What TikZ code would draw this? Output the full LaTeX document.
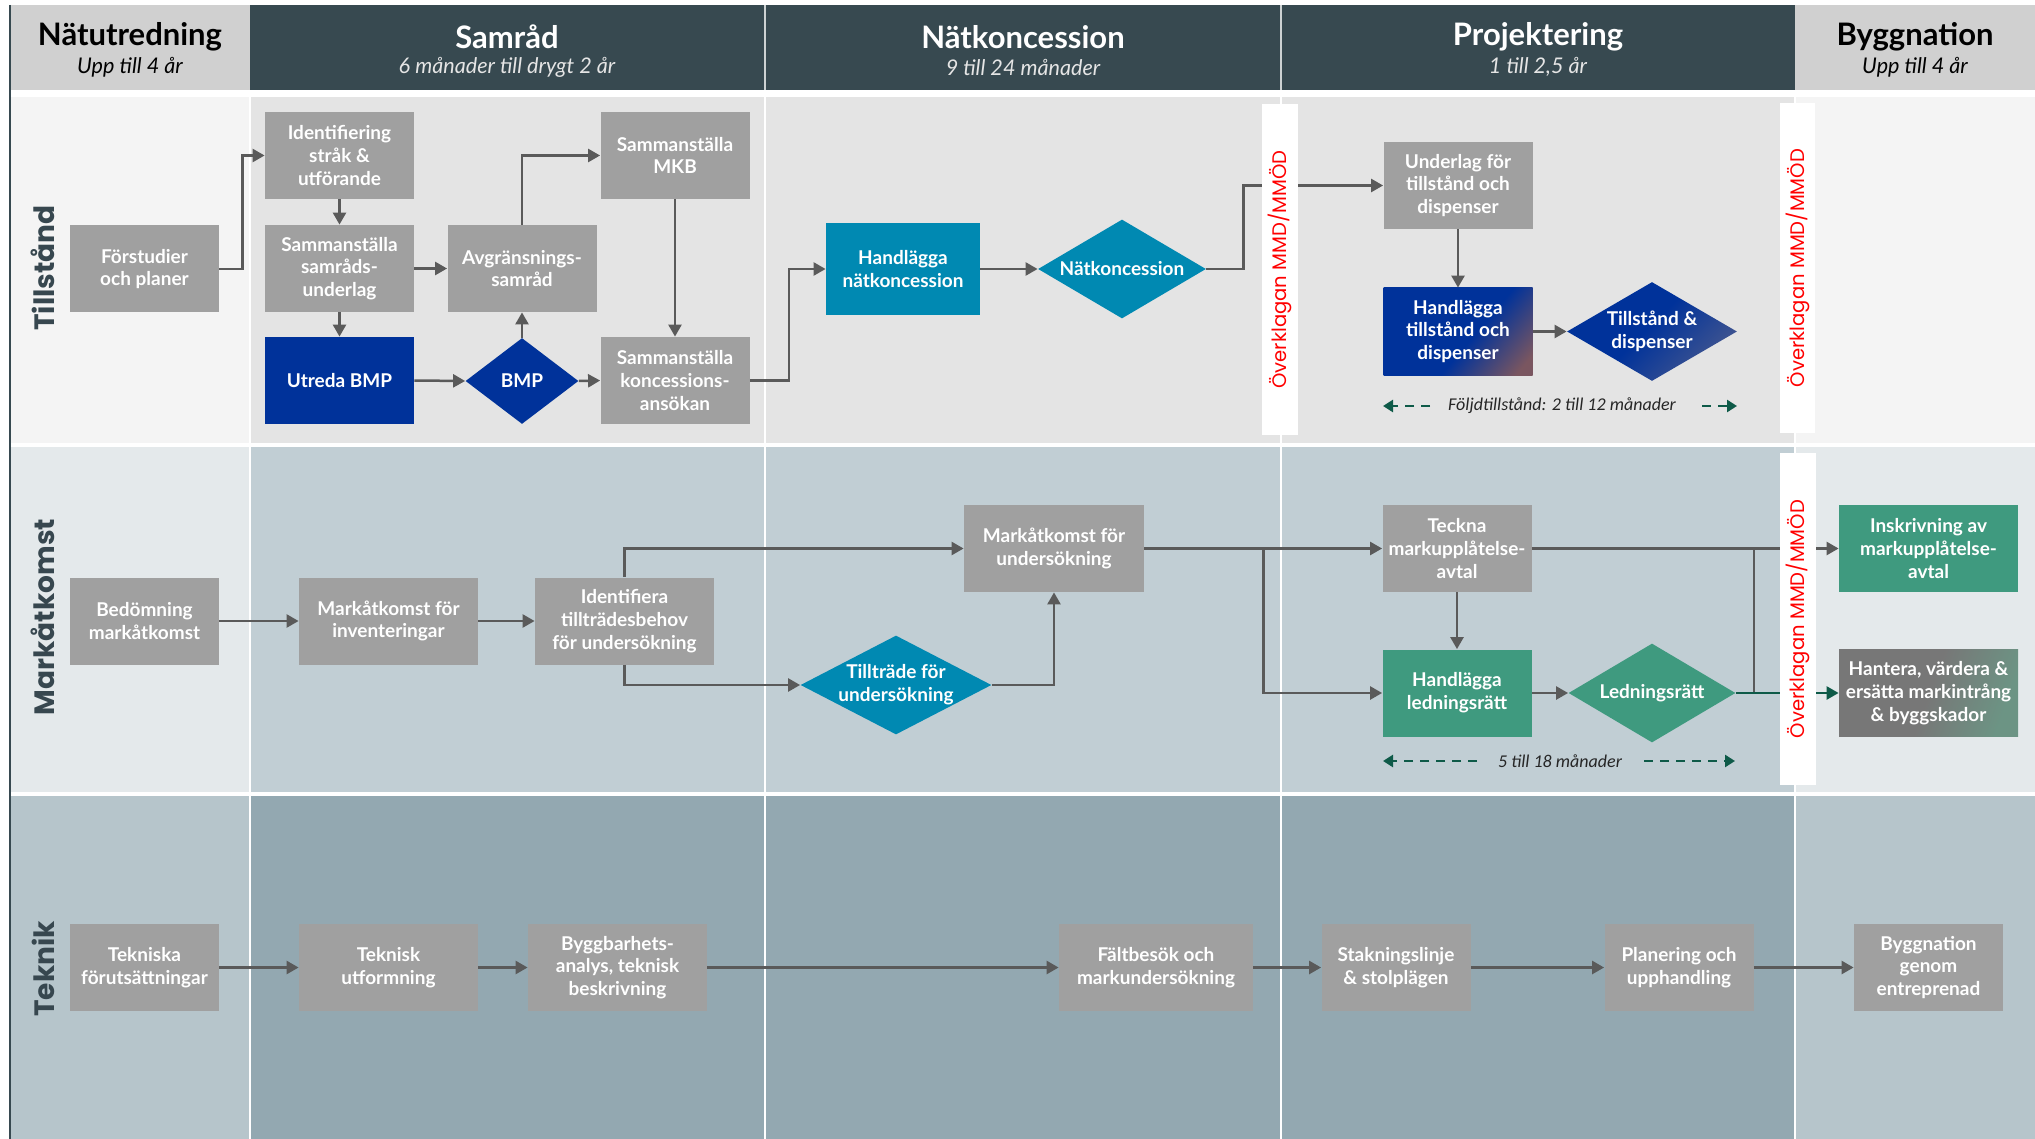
\documentclass[tikz,border=0pt]{standalone}
\usepackage{fontspec}
\setmainfont{Lato}
\newfontfamily\popfont{Poppins}
\newfontfamily\notefont{Carlito}
\usetikzlibrary{shapes.geometric,arrows.meta,shadings,calc}

\definecolor{hdrdark}{HTML}{374950}
\definecolor{hdrlight}{HTML}{D0D0D0}
\definecolor{lAa}{HTML}{F4F4F4}
\definecolor{lAb}{HTML}{E4E4E4}
\definecolor{lBa}{HTML}{E4E9EB}
\definecolor{lBb}{HTML}{C1CED4}
\definecolor{lCa}{HTML}{B6C5CB}
\definecolor{lCb}{HTML}{93A8B1}
\definecolor{boxgray}{HTML}{A0A0A0}
\definecolor{bmpblue}{HTML}{00329A}
\definecolor{tealb}{HTML}{0089B2}
\definecolor{greenb}{HTML}{3F9A7F}
\definecolor{arrowgray}{HTML}{5A5A5A}
\definecolor{dgreen}{HTML}{0E5A48}
\definecolor{ovred}{HTML}{FF0000}
\definecolor{lanetext}{HTML}{37474F}
\definecolor{tdbrown}{HTML}{7A5660}
\definecolor{tdlight}{HTML}{4A5A8E}
\definecolor{hangray}{HTML}{777777}
\definecolor{hangreen}{HTML}{6C9484}

\pgfdeclarehorizontalshading{tdshade}{100bp}{color(0bp)=(bmpblue); color(56bp)=(bmpblue); color(80bp)=(tdbrown); color(100bp)=(tdbrown)}
\pgfdeclarehorizontalshading{diashade}{100bp}{color(0bp)=(bmpblue); color(48bp)=(bmpblue); color(78bp)=(tdlight); color(100bp)=(tdlight)}
\pgfdeclarehorizontalshading{hanshade}{100bp}{color(0bp)=(hangray); color(50bp)=(hangray); color(75bp)=(hangreen); color(100bp)=(hangreen)}

\tikzset{
  box/.style={rectangle, fill=boxgray, text=white, font=\fontsize{9.5}{11.4}\selectfont\bfseries,
    align=center, inner sep=0pt, minimum width=74.5pt, minimum height=43.5pt},
  wbox/.style={box, minimum width=89.5pt},
  dia/.style={diamond, inner sep=0pt, minimum height=49.5pt},
  dtext/.style={text=white, font=\fontsize{9.5}{11.4}\selectfont\bfseries, align=center, inner sep=0pt},
  conn/.style={draw=arrowgray, line width=1.25pt, -{Triangle[length=6pt,width=6.5pt]}},
  plainline/.style={draw=arrowgray, line width=1.25pt},
  gconn/.style={draw=dgreen, line width=1.25pt, -{Triangle[length=6pt,width=6.5pt]}},
  darr/.style={draw=dgreen, line width=1.3pt, dash pattern=on 4.5pt off 3.5pt, -{Triangle[length=5pt,width=6pt]}},
  note/.style={font=\notefont\itshape\fontsize{9}{11}\selectfont, text=black!85, inner sep=0pt},
  lanelab/.style={font=\popfont\bfseries\fontsize{14}{16}\selectfont, text=lanetext, rotate=90, inner sep=0pt},
  barbox/.style={rectangle, fill=white, inner sep=0pt, minimum width=18pt},
  overtxt/.style={font=\popfont\fontsize{9.8}{11}\selectfont, text=ovred, rotate=90, inner sep=0pt},
  htitle/.style={font=\bfseries\fontsize{15.5}{18}\selectfont, inner sep=0pt},
  hsub/.style={font=\itshape\fontsize{10.8}{13}\selectfont, inner sep=0pt},
}

\begin{document}
\begin{tikzpicture}[x=0.5pt,y=-0.5pt]
\path[use as bounding box] (0,0) rectangle (2035,1139);

% ---------- backgrounds ----------
\fill[hdrlight] (10,5) rectangle (250,90);
\fill[hdrdark] (250,5) rectangle (1795,90);
\fill[hdrlight] (1795,5) rectangle (2035,90);
\draw[white!75!hdrdark, line width=1pt] (765,5) -- (765,90) (1281,5) -- (1281,90);

\fill[lAa] (10,97) rectangle (250,443);
\fill[lAb] (250,97) rectangle (1795,443);
\fill[lAa] (1795,97) rectangle (2035,443);
\fill[lBa] (10,447) rectangle (250,792);
\fill[lBb] (250,447) rectangle (1795,792);
\fill[lBa] (1795,447) rectangle (2035,792);
\fill[lCa] (10,796) rectangle (250,1139);
\fill[lCb] (250,796) rectangle (1795,1139);
\fill[lCa] (1795,796) rectangle (2035,1139);
\draw[white, line width=1pt] (250,97) -- (250,1139) (765,97) -- (765,1139)
  (1281,97) -- (1281,1139) (1795,97) -- (1795,1139);
\draw[hdrdark, line width=0.7pt] (10,5) -- (10,1139);

% ---------- header ----------
\node[htitle, text=black] (h1t) at (130,37) {Nätutredning};
\node[hsub, text=black] (h1s) at (130,67) {Upp till 4 år};
\node[htitle, text=white] (h2t) at (507,37) {Samråd};
\node[hsub, text=white!90!black] (h2s) at (507,67) {6 månader till drygt 2 år};
\node[htitle, text=white] (h3t) at (1023,37) {Nätkoncession};
\node[hsub, text=white!90!black] (h3s) at (1023,67) {9 till 24 månader};
\node[htitle, text=white] (h4t) at (1538,37) {Projektering};
\node[hsub, text=white!90!black] (h4s) at (1538,67) {1 till 2,5 år};
\node[htitle, text=black] (h5t) at (1915,37) {Byggnation};
\node[hsub, text=black] (h5s) at (1915,67) {Upp till 4 år};

% ---------- lane labels ----------
\node[lanelab] (labT) at (43,268) {Tillstånd};
\node[lanelab] (labM) at (43,617) {Markåtkomst};
\node[lanelab] (labK) at (43,969) {Teknik};

% ---------- lane 1: Tillstånd ----------
\node[box] (forst) at (144.5,269) {Förstudier\\och planer};
\node[box] (ident) at (339.5,155.5) {Identifiering\\stråk \&\\utförande};
\node[box] (samr) at (339.5,268.5) {Sammanställa\\samråds-\\underlag};
\node[box, fill=bmpblue] (utreda) at (339.5,380.5) {Utreda BMP};
\node[box] (avgr) at (522,268.5) {Avgränsnings-\\samråd};
\node[dia, fill=bmpblue, minimum width=56.5pt, minimum height=43pt] (bmp) at (522,381) {};
\node[dtext] (bmpt) at (bmp.center) {BMP};
\node[box] (mkb) at (675,155.5) {Sammanställa\\MKB};
\node[box] (konc) at (675,380.5) {Sammanställa\\koncessions-\\ansökan};
\node[box, fill=tealb, minimum width=77pt, minimum height=46pt] (handnk) at (903,269) {Handlägga\\nätkoncession};
\node[dia, fill=tealb, minimum width=84pt] (natk) at (1122,269) {};
\node[dtext] (natkt) at (natk.center) {Nätkoncession};
\node[box] (underlag) at (1458,185.5) {Underlag för\\tillstånd och\\dispenser};
\node[box, shading=tdshade, shading angle=-40] (handtd) at (1458,331.5) {Handlägga\\tillstånd och\\dispenser};
\node[dia, shading=diashade, shading angle=-45, minimum width=85pt] (tdd) at (1652,331.5) {};
\node[dtext] (tddt) at (tdd.center) {Tillstånd \&\\dispenser};

\draw[conn] (forst.east) -- ++(23,0) |- (ident.west);
\draw[conn] (ident.south) -- (samr.north);
\draw[conn] (samr.south) -- (utreda.north);
\draw[conn] (samr.east) -- (avgr.west);
\draw[conn] (avgr.north) |- (mkb.west);
\draw[conn] (bmp.north) -- (avgr.south);
\draw[conn] (utreda.east) -- (bmp.west);
\draw[conn] (bmp.east) -- (konc.west);
\draw[conn] (mkb.south) -- (konc.north);
\draw[conn] (konc.east) -- ++(39,0) |- (handnk.west);
\draw[conn] (handnk.east) -- (natk.west);
\draw[conn] (natk.east) -- ++(37,0) |- (underlag.west);
\draw[conn] (underlag.south) -- (handtd.north);
\draw[conn] (handtd.east) -- (tdd.west);

\coordinate (fa0) at (1383,406);
\coordinate (fa1) at (1430,406);
\coordinate (fb0) at (1702,406);
\coordinate (fb1) at (1737,406);
\node[note] (foljd) at (1562,406) {Följdtillstånd: 2 till 12 månader};
\draw[darr] (fa1) -- (fa0);
\draw[darr] (fb0) -- (fb1);

% ---------- lane 2: Markåtkomst ----------
\node[box] (bedom) at (144.5,621) {Bedömning\\markåtkomst};
\node[wbox] (mkinv) at (388.5,621) {Markåtkomst för\\inventeringar};
\node[wbox] (identf) at (624.5,621) {Identifiera\\tillträdesbehov\\för undersökning};
\node[dia, fill=tealb, minimum width=95.5pt] (tilltr) at (896,685) {};
\node[dtext] (tilltrt) at (tilltr.center) {Tillträde för\\undersökning};
\node[wbox, minimum width=90pt] (mkund) at (1054,548.5) {Markåtkomst för\\undersökning};
\node[box] (teckna) at (1457,548.5) {Teckna\\markupplåtelse-\\avtal};
\node[box, fill=greenb] (handlr) at (1457,693) {Handlägga\\ledningsrätt};
\node[dia, fill=greenb, minimum width=83.5pt] (ledn) at (1652,693) {};
\node[dtext] (lednt) at (ledn.center) {Ledningsrätt};
\node[wbox, fill=greenb] (inskr) at (1928.5,548.5) {Inskrivning av\\markupplåtelse-\\avtal};
\node[wbox, shading=hanshade, shading angle=-20] (hantera) at (1928.5,693) {Hantera, värdera \&\\ersätta markintrång\\\& byggskador};

\draw[conn] (bedom.east) -- (mkinv.west);
\draw[conn] (mkinv.east) -- (identf.west);
\draw[conn] (identf.north) |- (mkund.west);
\draw[conn] (identf.south) |- (tilltr.west);
\draw[conn] (tilltr.east) -| (mkund.south);
\draw[conn] (mkund.east) -- (teckna.west);
\draw[conn] (mkund.east) -- ++(119,0) |- (handlr.west);
\draw[conn] (teckna.south) -- (handlr.north);
\draw[conn] (handlr.east) -- (ledn.west);
\draw[conn] (teckna.east) -- (inskr.west);
\draw[plainline] ([xshift=9pt]ledn.east) -- ([xshift=9pt]ledn.east |- teckna.east);
\draw[gconn] (ledn.east) -- (hantera.west);

\coordinate (ma0) at (1383,761);
\coordinate (ma1) at (1477,761);
\coordinate (mb0) at (1644,761);
\coordinate (mb1) at (1735,761);
\node[note] (mtext) at (1560,761) {5 till 18 månader};
\draw[darr] (ma1) -- (ma0);
\draw[darr] (mb0) -- (mb1);

% ---------- lane 3: Teknik ----------
\node[box] (tekf) at (144.5,967.5) {Tekniska\\förutsättningar};
\node[wbox] (tekut) at (388.5,967.5) {Teknisk\\utformning};
\node[wbox] (bygga) at (617.5,967.5) {Byggbarhets-\\analys, teknisk\\beskrivning};
\node[box, minimum width=97pt] (faltb) at (1156,967.5) {Fältbesök och\\markundersökning};
\node[box] (stakn) at (1396,967.5) {Stakningslinje\\\& stolplägen};
\node[box] (plan) at (1679,967.5) {Planering och\\upphandling};
\node[box] (byggn) at (1928.5,967.5) {Byggnation\\genom\\entreprenad};

\draw[conn] (tekf.east) -- (tekut.west);
\draw[conn] (tekut.east) -- (bygga.west);
\draw[conn] (bygga.east) -- (faltb.west);
\draw[conn] (faltb.east) -- (stakn.west);
\draw[conn] (stakn.east) -- (plan.west);
\draw[conn] (plan.east) -- (byggn.west);

% ---------- appeal bars ----------
\node[barbox, minimum height=165.5pt] (bar1) at (1279.5,269.5) {};
\node[overtxt] (bar1t) at (bar1.center) {Överklagan MMD/MMÖD};
\node[barbox, minimum height=165pt, minimum width=17.5pt] (bar2) at (1797.5,268) {};
\node[overtxt] (bar2t) at (bar2.center) {Överklagan MMD/MMÖD};
\node[barbox, minimum height=166pt] (bar3) at (1798,619) {};
\node[overtxt] (bar3t) at (bar3.center) {Överklagan MMD/MMÖD};
\end{tikzpicture}
\end{document}
